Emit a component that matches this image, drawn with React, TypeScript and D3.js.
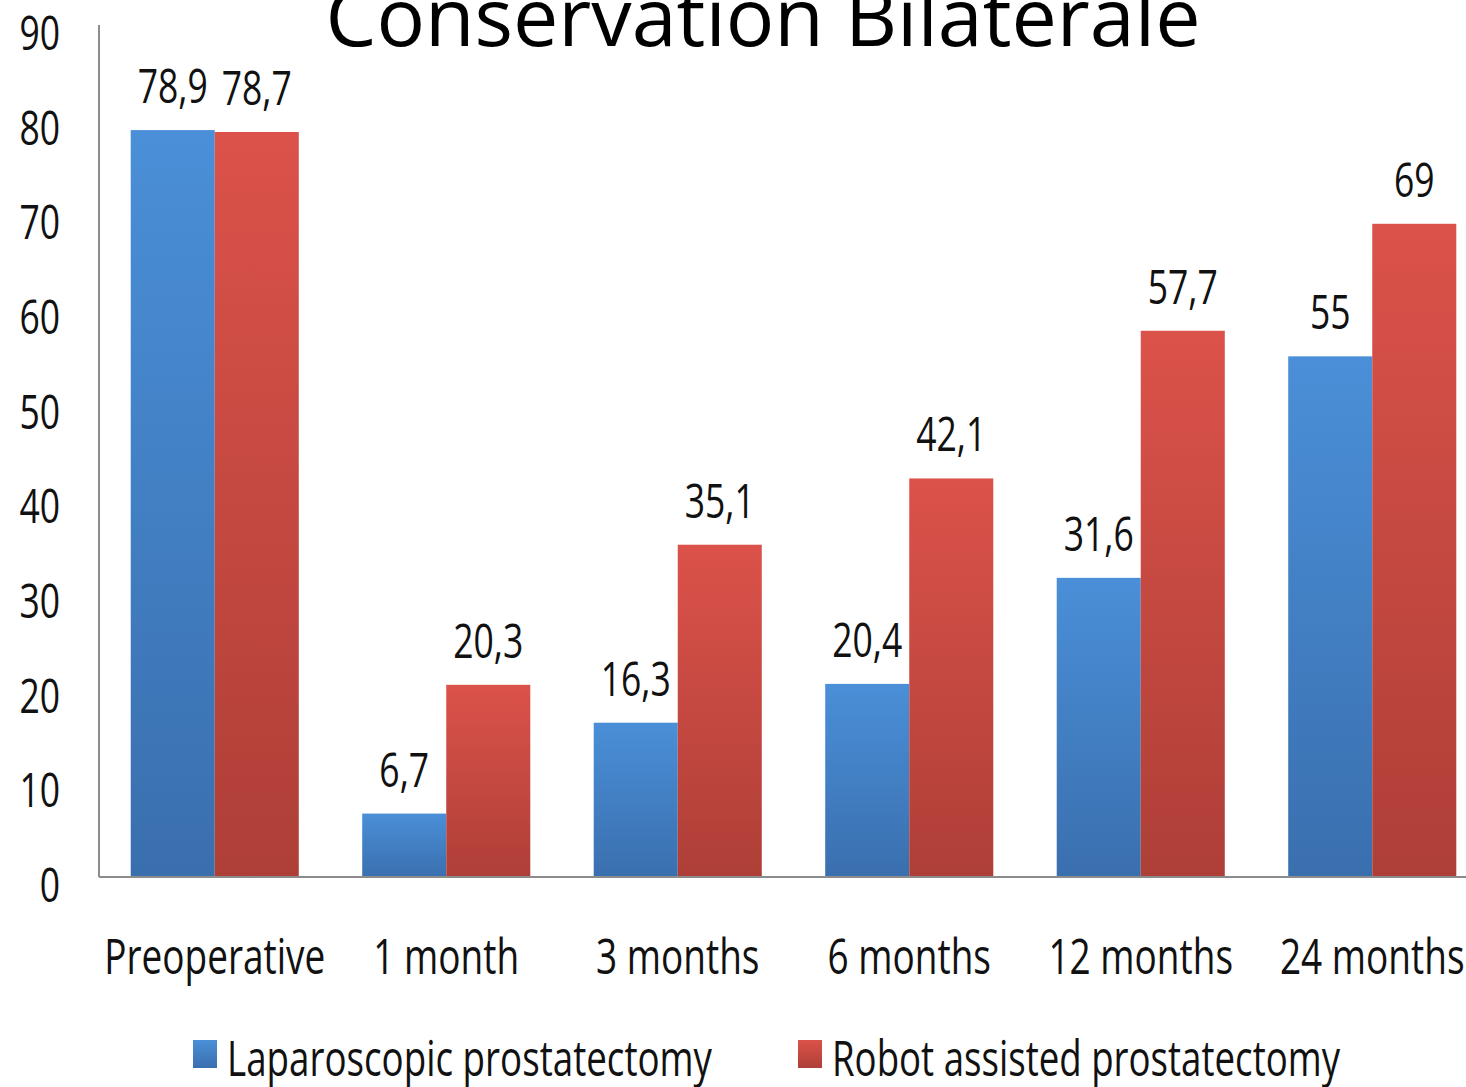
import React from 'react';
import { scaleBand, scaleLinear, range } from 'd3';

const categories = ['Preoperative', '1 month', '3 months', '6 months', '12 months', '24 months'];
const seriesNames = ['Laparoscopic prostatectomy', 'Robot assisted prostatectomy'];
const laparoscopic = [78.9, 6.7, 16.3, 20.4, 31.6, 55];
const robot = [78.7, 20.3, 35.1, 42.1, 57.7, 69];
const yTicks = [0, 10, 20, 30, 40, 50, 60, 70, 80, 90];

const W = 1466;
const H = 1087;
const FONT = "'Open Sans', sans-serif";
const SX = 0.74;

const Txt = ({ x, y, size, anchor = 'middle', children }: any) => (
  <g transform={`translate(${x},${y}) scale(${SX},1)`}>
    <text x={0} y={0} fontSize={size} fontFamily={FONT} textAnchor={anchor} fill='#111'>
      {children}
    </text>
  </g>
);

const fmt = (v: number) => String(v).replace('.', ',');

const App = () => {
  const left = 99;
  const bottom = 877;
  const y = scaleLinear().domain([0, 90]).range([bottom, bottom - 852]);
  const x0 = scaleBand<string>()
    .domain(categories)
    .range([left, left + 6 * 231.5])
    .paddingInner(0.274)
    .paddingOuter(0.137);
  const x1 = scaleBand<number>().domain([0, 1]).range([0, x0.bandwidth()]);
  const series = [laparoscopic, robot];
  const fills = ['url(#gBlue)', 'url(#gRed)'];

  return (
    <svg width={W} height={H} style={{ position: 'absolute', left: 0, top: 0, background: '#fff' }}>
      <defs>
        <linearGradient id='gBlue' x1='0' y1='0' x2='0' y2='1'>
          <stop offset='0%' stopColor='#4a8fd8' />
          <stop offset='100%' stopColor='#3a6fae' />
        </linearGradient>
        <linearGradient id='gRed' x1='0' y1='0' x2='0' y2='1'>
          <stop offset='0%' stopColor='#db524a' />
          <stop offset='100%' stopColor='#ae3f37' />
        </linearGradient>
      </defs>

      <text
        x={763}
        y={46}
        fontSize={80}
        fontFamily={FONT}
        textAnchor='middle'
        fill='#000'
        textLength={875}
        lengthAdjust='spacingAndGlyphs'
      >
        Conservation Bilaterale
      </text>

      {yTicks.map((t) => (
        <Txt key={t} x={60} y={y(t) + 25} size={48} anchor='end'>
          {t}
        </Txt>
      ))}

      {categories.map((c, i) =>
        series.map((s, j) => {
          const bx = (x0(c) as number) + (x1(j) as number);
          const bw = x1.bandwidth();
          return (
            <g key={c + j}>
              <rect x={bx} y={y(s[i])} width={bw} height={bottom - y(s[i])} fill={fills[j]} />
              <Txt x={bx + bw / 2} y={y(s[i]) - 27} size={48}>
                {fmt(s[i])}
              </Txt>
            </g>
          );
        })
      )}

      <line x1={left} x2={left} y1={25} y2={bottom} stroke='#8c8c8c' strokeWidth={2} />
      <line x1={left} x2={W} y1={bottom} y2={bottom} stroke='#8c8c8c' strokeWidth={2} />

      {categories.map((c) => (
        <Txt key={c} x={(x0(c) as number) + x0.bandwidth() / 2} y={974} size={50}>
          {c}
        </Txt>
      ))}

      {range(2).map((j) => {
        const lx = [193, 798][j];
        const tw = [485, 508][j];
        return (
          <g key={j}>
            <rect x={lx} y={1040} width={24} height={28} fill={fills[j]} />
            <text
              x={lx + 34}
              y={1076}
              fontSize={50}
              fontFamily={FONT}
              fill='#111'
              textLength={tw}
              lengthAdjust='spacingAndGlyphs'
            >
              {seriesNames[j]}
            </text>
          </g>
        );
      })}
    </svg>
  );
};

export default App;
